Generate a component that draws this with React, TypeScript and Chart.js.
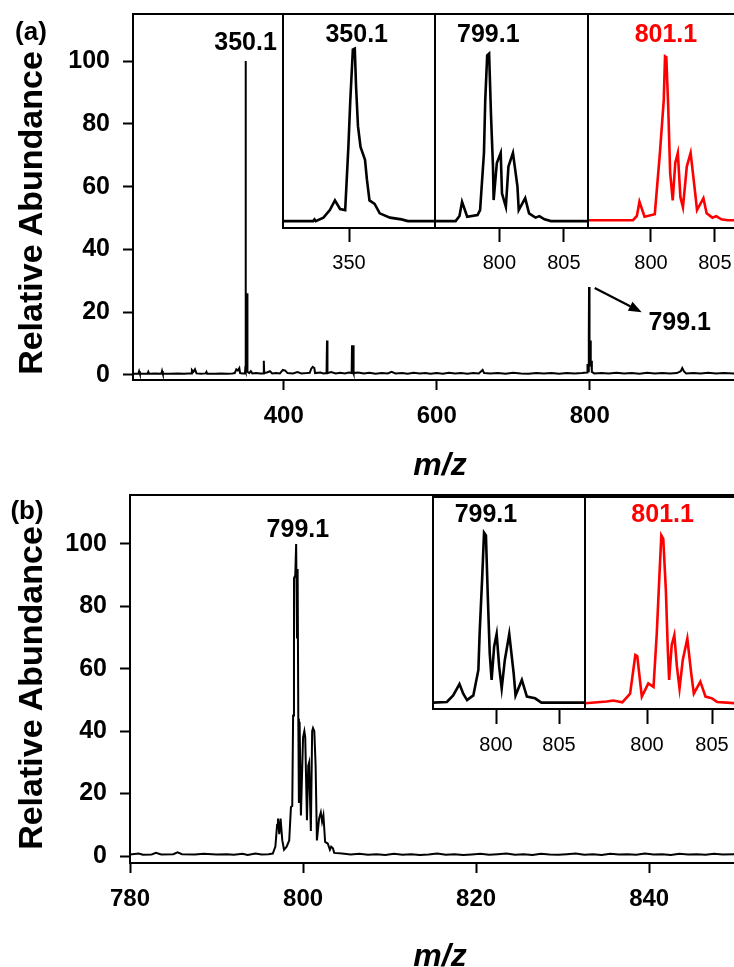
import React, { useEffect, useRef } from 'react';
import { Chart, registerables } from 'chart.js';

Chart.register(...registerables);

const FONT = '"Liberation Sans", Arial, Helvetica, sans-serif';

type Pt = [number, number];

// ---------- DATA ----------
// Panel (a): full-scan spectrum, [m/z, relative abundance]
const spectrumA: Pt[] = [
  [203, 0.4], [210, 0.4], [211, 1.2], [212, 0.4], [222, 0.4], [223, 1.0], [224, 0.4], [232, 0.5],
  [240, 0.4], [241, 1.3], [242, 0.4], [250, 0.4], [262, 0.5], [270, 0.4], [275, 0.5], [279, 0.5],
  [280, 1.6], [282, 1.0], [284, 1.8], [286, 0.5], [292, 0.4], [298, 0.5], [299, 1.0], [300, 0.4],
  [310, 0.4], [318, 0.5], [326, 0.4], [333, 0.5], [336, 0.6], [338, 1.8], [340, 1.4], [342, 2.2],
  [343, 0.6], [346, 0.5], [349.3, 0.5], [349.6, 1.5], [350.1, 100], [350.6, 1.0], [351.6, 1.2],
  [352.1, 26], [352.6, 1.0], [355, 0.6], [357, 1.2], [359, 0.5], [364, 0.6], [369, 0.5],
  [373.5, 0.5], [374, 4.5], [374.5, 0.6], [378, 0.8], [382, 1.2], [385, 0.5], [390, 0.6],
  [395, 0.5], [399, 1.6], [402, 1.4], [405, 0.6], [412, 0.5], [418, 0.9], [423, 0.5], [430, 0.6],
  [434, 0.7], [436, 2.0], [438, 2.6], [440, 2.2], [441, 0.6], [448, 0.8], [452, 0.5], [456, 0.6],
  [456.6, 11], [457.2, 0.6], [462, 0.9], [468, 0.5], [474, 0.7], [480, 0.5], [485, 0.8],
  [488.8, 0.6], [489.3, 9.5], [489.8, 1.2], [490.6, 1.2], [491.1, 9.5], [491.6, 0.6], [497, 0.8],
  [505, 0.5], [512, 0.7], [520, 0.4], [528, 0.6], [536, 0.5], [541, 1.0], [546, 0.5], [555, 0.6],
  [562, 0.4], [570, 0.7], [578, 0.5], [585, 0.6], [592, 0.4], [600, 0.6], [608, 0.4], [616, 0.7],
  [624, 0.5], [632, 0.6], [640, 0.4], [648, 0.6], [655, 0.5], [660, 1.6], [662, 0.6], [670, 0.5],
  [680, 0.6], [690, 0.4], [700, 0.7], [710, 0.5], [720, 0.4], [730, 0.6], [740, 0.5], [750, 0.6],
  [760, 0.4], [770, 0.6], [780, 0.5], [790, 0.6], [796.5, 0.8], [797.1, 3.5], [797.8, 1.2],
  [798.8, 12], [799.1, 28], [799.4, 12], [800.1, 11], [800.6, 3], [801.1, 11], [801.6, 3],
  [802.1, 4.5], [802.8, 1], [806, 0.5], [815, 0.6], [825, 0.5], [835, 0.7], [845, 0.5], [855, 0.6],
  [865, 0.4], [875, 0.7], [885, 0.5], [895, 0.6], [905, 0.5], [914, 0.6], [919, 1.2], [921, 2.2],
  [923, 1.2], [926, 0.5], [935, 0.6], [945, 0.5], [955, 0.7], [965, 0.5], [975, 0.6], [988.6, 0.5],
];

// Panel (a) insets
const insetA350: Pt[] = [
  [344.84, 0], [347.2, 0], [347.3, 1], [347.4, 0], [348, 2], [348.5, 6.4], [348.9, 12], [349.3, 7],
  [349.7, 6.4], [349.95, 43], [350.1, 70], [350.3, 99.4], [350.45, 100], [350.55, 78], [350.7, 55],
  [350.9, 43], [351.25, 35.5], [351.4, 24], [351.6, 12], [352, 10], [352.4, 4.5], [353.2, 2],
  [354.1, 1], [354.6, 0], [356.72, 0],
];
const insetA799: Pt[] = [
  [795, 0], [796.6, 0], [796.9, 3], [797.1, 11.2], [797.5, 2.5], [798.3, 3.5], [798.5, 6.4],
  [798.8, 39.5], [798.9, 70], [799.05, 96], [799.2, 97], [799.35, 60.7], [799.5, 31.6],
  [799.55, 12.2], [799.8, 33.7], [800.1, 39.5], [800.2, 16], [800.5, 8.3], [800.7, 31.6],
  [801.05, 39.5], [801.4, 20], [801.5, 6.4], [802.0, 13.3], [802.3, 4.5], [802.8, 2], [803.1, 2.9],
  [803.5, 1], [804, 0], [806.875, 0],
];
const insetA801: Pt[] = [
  [795.08, 0.5], [798.6, 0.5], [798.9, 3], [799.1, 11.2], [799.5, 2.5], [800.3, 4], [800.7, 39.5],
  [801.0, 70], [801.1, 95.5], [801.2, 95], [801.35, 66], [801.5, 28], [801.7, 12], [801.9, 33.7],
  [802.1, 39.5], [802.3, 14], [802.5, 8], [802.8, 31.6], [803.1, 39.5], [803.4, 20], [803.6, 6.4],
  [804.1, 13.3], [804.35, 4.5], [804.8, 2], [805.1, 2.9], [805.5, 1], [806, 0.5], [806.49, 0.5],
];

// Panel (b): zoomed spectrum
const spectrumB: Pt[] = [
  [780, 0.5], [781, 0.8], [781.5, 0.4], [782.5, 0.5], [783, 1.0], [783.6, 0.5], [785, 0.6],
  [785.5, 1.2], [786, 0.6], [787.5, 0.5], [788.5, 0.7], [790, 0.5], [791.2, 0.6], [792, 0.4],
  [793, 0.7], [793.6, 0.3], [794.5, 0.8], [795.2, 0.5], [796, 0.6], [796.5, 0.8], [796.8, 3],
  [797.0, 10], [797.1, 12], [797.25, 7], [797.4, 12], [797.6, 5], [797.8, 2], [798.1, 3], [798.4, 5],
  [798.6, 15.7], [798.75, 16], [798.85, 45], [798.95, 89], [799.1, 90], [799.2, 100], [799.3, 70],
  [799.37, 92], [799.45, 44], [799.52, 17], [799.6, 43], [799.75, 13], [800.0, 38], [800.15, 40],
  [800.25, 38], [800.45, 11.5], [800.6, 29], [800.7, 30], [800.9, 8], [801.05, 40], [801.15, 41],
  [801.3, 40], [801.45, 29], [801.6, 5], [801.85, 12], [802.05, 14], [802.2, 11], [802.35, 13],
  [802.55, 4.5], [802.85, 4], [803.1, 2], [803.25, 3], [803.45, 2.5], [803.6, 1], [804.5, 0.8],
  [805.5, 0.5], [806.5, 0.7], [807.5, 0.4], [808.5, 0.6], [809.5, 0.3], [810.5, 0.7], [811.5, 0.4],
  [812.5, 0.6], [813.5, 0.3], [814.5, 0.5], [815.5, 0.8], [816.5, 0.4], [817.5, 0.6], [818.5, 0.3],
  [819.5, 0.5], [820.5, 0.7], [821.5, 0.4], [822.5, 0.6], [823.5, 0.8], [824.5, 0.4], [825.5, 0.6],
  [826.5, 0.3], [827.5, 0.7], [828.5, 0.5], [829.5, 0.4], [830.5, 0.6], [831.5, 0.8], [832.5, 0.4],
  [833.5, 0.6], [834.5, 0.3], [835.5, 0.7], [836.5, 0.5], [837.5, 0.6], [838.5, 0.4], [839.5, 0.8],
  [840.5, 0.5], [841.5, 0.6], [842.5, 0.3], [843.5, 0.7], [844.5, 0.5], [845.5, 0.6], [846.5, 0.4],
  [847.5, 0.7], [848.5, 0.5], [849.8, 0.6],
];

// Panel (b) insets
const insetB799: Pt[] = [
  [795, 0.8], [796.1, 1.2], [796.6, 5], [797.1, 11.6], [797.4, 6], [797.7, 2.3], [798.2, 5],
  [798.6, 19.8], [798.7, 41], [798.9, 73], [799.05, 99.6], [799.2, 98], [799.35, 62], [799.5, 29.5],
  [799.65, 14], [799.85, 33.3], [800.05, 40.7], [800.25, 21.7], [800.45, 9], [800.7, 25.6],
  [801.05, 40.7], [801.4, 17.8], [801.55, 5], [802.05, 14], [802.45, 4.3], [803.1, 3.3],
  [803.6, 0.8], [807.06, 0.8],
];
const insetB801: Pt[] = [
  [795.23, 0.4], [796.9, 1.5], [797.4, 2], [798.1, 1], [798.7, 6], [799.1, 28.5], [799.25, 27.7],
  [799.6, 4.3], [800.1, 12], [800.5, 10], [800.75, 41], [800.95, 74], [801.1, 98], [801.25, 96],
  [801.45, 66], [801.6, 31.4], [801.7, 14], [801.9, 34.3], [802.1, 40], [802.3, 21.7], [802.5, 9],
  [802.75, 25.6], [803.1, 38], [803.4, 17.8], [803.6, 6], [804.1, 13], [804.5, 4.3], [805, 3.3],
  [805.4, 1.2], [806.69, 0.5],
];

// Tick values
const yTicksMain = [0, 20, 40, 60, 80, 100];
const xTicksA = [400, 600, 800];
const xTicksB = [780, 800, 820, 840];
const xTicksInset350 = [350];
const xTicksInset800 = [800, 805];

// Peak labels [m/z, abundance, text]
type Lbl = { x: number; y: number; text: string; color: string; font: string };
const BOLD25 = `bold 25px ${FONT}`;
const labelsA: Lbl[] = [
  { x: 350.1, y: 105.7, text: '350.1', color: '#000', font: BOLD25 },
  { x: 917.6, y: 16.6, text: '799.1', color: '#000', font: BOLD25 },
];
const arrowsA = [{ x1: 806.5, y1: 27.7, x2: 868, y2: 20 }];
const labelsB: Lbl[] = [{ x: 799.4, y: 104.5, text: '799.1', color: '#000', font: BOLD25 }];

// ---------- PLUGINS ----------
type Sides = { top?: boolean; left?: boolean; right?: boolean; bottom?: boolean; fill?: string };
function framePlugin(s: Sides) {
  return {
    id: 'frame',
    beforeDraw(chart: any) {
      const { ctx, chartArea: a } = chart;
      if (s.fill) {
        ctx.save();
        ctx.fillStyle = s.fill;
        ctx.fillRect(a.left, a.top, a.right - a.left, a.bottom - a.top);
        ctx.restore();
      }
    },
    afterDraw(chart: any) {
      const { ctx, chartArea: a } = chart;
      ctx.save();
      ctx.strokeStyle = '#000';
      ctx.lineWidth = 2;
      ctx.beginPath();
      if (s.top) { ctx.moveTo(a.left - 1, a.top); ctx.lineTo(a.right, a.top); }
      if (s.left) { ctx.moveTo(a.left, a.top); ctx.lineTo(a.left, a.bottom); }
      if (s.right) { ctx.moveTo(a.right, a.top); ctx.lineTo(a.right, a.bottom); }
      if (s.bottom) { ctx.moveTo(a.left, a.bottom); ctx.lineTo(a.right, a.bottom); }
      ctx.stroke();
      ctx.restore();
    },
  };
}

function labelPlugin(labels: Lbl[], arrows: { x1: number; y1: number; x2: number; y2: number }[] = []) {
  return {
    id: 'peakLabels',
    afterDatasetsDraw(chart: any) {
      const { ctx } = chart;
      const xs = chart.scales.x;
      const ys = chart.scales.y;
      ctx.save();
      ctx.textAlign = 'center';
      ctx.textBaseline = 'middle';
      for (const l of labels) {
        ctx.font = l.font;
        ctx.fillStyle = l.color;
        ctx.fillText(l.text, xs.getPixelForValue(l.x), ys.getPixelForValue(l.y));
      }
      for (const ar of arrows) {
        const x1 = xs.getPixelForValue(ar.x1), y1 = ys.getPixelForValue(ar.y1);
        const x2 = xs.getPixelForValue(ar.x2), y2 = ys.getPixelForValue(ar.y2);
        const ang = Math.atan2(y2 - y1, x2 - x1);
        const hl = 13, hw = 5;
        const bx = x2 - hl * Math.cos(ang), by = y2 - hl * Math.sin(ang);
        ctx.strokeStyle = '#000';
        ctx.fillStyle = '#000';
        ctx.lineWidth = 2.2;
        ctx.beginPath();
        ctx.moveTo(x1, y1);
        ctx.lineTo(bx, by);
        ctx.stroke();
        ctx.beginPath();
        ctx.moveTo(x2, y2);
        ctx.lineTo(bx + hw * Math.sin(ang), by - hw * Math.cos(ang));
        ctx.lineTo(bx - hw * Math.sin(ang), by + hw * Math.cos(ang));
        ctx.closePath();
        ctx.fill();
      }
      ctx.restore();
    },
  };
}

// ---------- CONFIG BUILDERS ----------
type MainOpts = {
  data: Pt[]; xMin: number; xMax: number; xTicks: number[]; yMin: number; yMax: number;
  yWidth: number; xHeight: number; padTop: number; labels: Lbl[]; arrows?: any[];
};
function mainConfig(o: MainOpts): any {
  return {
    type: 'line',
    data: {
      datasets: [{
        data: o.data.map(([x, y]) => ({ x, y })),
        borderColor: '#000', borderWidth: 2, pointRadius: 0, tension: 0, fill: false,
      }],
    },
    options: {
      responsive: false, animation: false, events: [],
      layout: { padding: { top: o.padTop, left: 0, right: 0, bottom: 0 } },
      plugins: { legend: { display: false }, tooltip: { enabled: false } },
      scales: {
        x: {
          type: 'linear', position: 'bottom', min: o.xMin, max: o.xMax,
          afterBuildTicks: (s: any) => { s.ticks = o.xTicks.map((v) => ({ value: v })); },
          afterFit: (s: any) => { s.height = o.xHeight; s.paddingLeft = 0; s.paddingRight = 0; },
          grid: { display: true, drawOnChartArea: false, drawTicks: true, tickLength: 10, tickWidth: 2, tickColor: '#000' },
          border: { display: true, color: '#000', width: 2 },
          ticks: { color: '#000', font: { family: FONT, size: 24, weight: 'bold' }, padding: 12, maxRotation: 0, autoSkip: false },
        },
        y: {
          type: 'linear', position: 'left', min: o.yMin, max: o.yMax,
          afterBuildTicks: (s: any) => { s.ticks = yTicksMain.map((v) => ({ value: v })); },
          afterFit: (s: any) => { s.width = o.yWidth; s.paddingTop = 0; s.paddingBottom = 0; },
          grid: { display: true, drawOnChartArea: false, drawTicks: true, tickLength: 10, tickWidth: 2, tickColor: '#000' },
          border: { display: true, color: '#000', width: 2 },
          ticks: { color: '#000', font: { family: FONT, size: 25, weight: 'bold' }, padding: 13, autoSkip: false },
        },
      },
    },
    plugins: [framePlugin({ top: true }), labelPlugin(o.labels, o.arrows || [])],
  };
}

type InsetOpts = {
  data: Pt[]; color: string; xMin: number; xMax: number; xTicks: number[]; yMin: number; yMax: number;
  xHeight: number; padRight: number; tickLen: number; tickPad: number; title: Lbl; sides: Sides;
};
function insetConfig(o: InsetOpts): any {
  return {
    type: 'line',
    data: {
      datasets: [{
        data: o.data.map(([x, y]) => ({ x, y })),
        borderColor: o.color, borderWidth: 2.6, pointRadius: 0, tension: 0, fill: false,
      }],
    },
    options: {
      responsive: false, animation: false, events: [],
      layout: { padding: { top: 2, left: 2, right: o.padRight, bottom: 0 } },
      plugins: { legend: { display: false }, tooltip: { enabled: false } },
      scales: {
        x: {
          type: 'linear', position: 'bottom', min: o.xMin, max: o.xMax,
          afterBuildTicks: (s: any) => { s.ticks = o.xTicks.map((v) => ({ value: v })); },
          afterFit: (s: any) => { s.height = o.xHeight; s.paddingLeft = 0; s.paddingRight = 0; },
          grid: { display: true, drawOnChartArea: false, drawTicks: true, tickLength: o.tickLen, tickWidth: 2, tickColor: '#000' },
          border: { display: true, color: '#000', width: 2 },
          ticks: { color: '#000', font: { family: FONT, size: 20 }, padding: o.tickPad, maxRotation: 0, autoSkip: false },
        },
        y: { type: 'linear', display: false, min: o.yMin, max: o.yMax },
      },
    },
    plugins: [framePlugin({ ...o.sides, fill: '#fff' }), labelPlugin([o.title])],
  };
}

// ---------- COMPONENTS ----------
function ChartBox({ left, top, width, height, config }: { left: number; top: number; width: number; height: number; config: () => any }) {
  const ref = useRef<HTMLCanvasElement | null>(null);
  useEffect(() => {
    const chart = new Chart(ref.current as HTMLCanvasElement, config());
    return () => chart.destroy();
  }, []);
  return (
    <div style={{ position: 'absolute', left, top, width, height }}>
      <canvas ref={ref} width={width} height={height} style={{ width, height, display: 'block' }} />
    </div>
  );
}

function Text({ x, y, children, size, italic, rotate, color = '#000' }: any) {
  return (
    <div
      style={{
        position: 'absolute', left: x, top: y,
        transform: `translate(-50%, -50%)${rotate ? ' rotate(-90deg)' : ''}`,
        fontFamily: FONT, fontWeight: 'bold', fontStyle: italic ? 'italic' : 'normal',
        fontSize: size, lineHeight: 1, whiteSpace: 'nowrap', color,
      }}
    >
      {children}
    </div>
  );
}

export default function App() {
  return (
    <div style={{ position: 'absolute', left: 0, top: 0, width: 734, height: 967, overflow: 'hidden', background: '#fff' }}>
      {/* Panel (a) */}
      <ChartBox left={0} top={0} width={734} height={480} config={() => mainConfig({
        data: spectrumA, xMin: 203, xMax: 988.6, xTicks: xTicksA, yMin: -1.6, yMax: 115,
        yWidth: 133, xHeight: 100, padTop: 14, labels: labelsA, arrows: arrowsA,
      })} />
      <ChartBox left={281} top={12} width={156} height={280} config={() => insetConfig({
        data: insetA350, color: '#000', xMin: 344.84, xMax: 356.72, xTicks: xTicksInset350, yMin: -4, yMax: 120,
        xHeight: 64, padRight: 2, tickLen: 14, tickPad: 9,
        title: { x: 350.6, y: 108, text: '350.1', color: '#000', font: BOLD25 },
        sides: { top: true, left: true, right: true },
      })} />
      <ChartBox left={433} top={12} width={157} height={280} config={() => insetConfig({
        data: insetA799, color: '#000', xMin: 795, xMax: 806.875, xTicks: xTicksInset800, yMin: -4, yMax: 120,
        xHeight: 64, padRight: 2, tickLen: 14, tickPad: 9,
        title: { x: 799.14, y: 108, text: '799.1', color: '#000', font: BOLD25 },
        sides: { top: true, left: true, right: true },
      })} />
      <ChartBox left={586} top={12} width={148} height={280} config={() => insetConfig({
        data: insetA801, color: '#ff0000', xMin: 795.08, xMax: 806.49, xTicks: xTicksInset800, yMin: -4, yMax: 120,
        xHeight: 64, padRight: 0, tickLen: 14, tickPad: 9,
        title: { x: 801.17, y: 108, text: '801.1', color: '#ff0000', font: BOLD25 },
        sides: { top: true, left: true },
      })} />

      {/* Panel (b) */}
      <ChartBox left={0} top={480} width={734} height={487} config={() => mainConfig({
        data: spectrumB, xMin: 780, xMax: 849.8, xTicks: xTicksB, yMin: -2.24, yMax: 115.7,
        yWidth: 130, xHeight: 104, padTop: 15, labels: labelsB,
      })} />
      <ChartBox left={431} top={495} width={156} height={274} config={() => insetConfig({
        data: insetB799, color: '#000', xMin: 795, xMax: 807.06, xTicks: xTicksInset800, yMin: -2.9, yMax: 120.3,
        xHeight: 60, padRight: 2, tickLen: 15, tickPad: 9,
        title: { x: 799.2, y: 110, text: '799.1', color: '#000', font: BOLD25 },
        sides: { top: true, left: true, right: true },
      })} />
      <ChartBox left={583} top={495} width={151} height={274} config={() => insetConfig({
        data: insetB801, color: '#ff0000', xMin: 795.23, xMax: 806.69, xTicks: xTicksInset800, yMin: -2.9, yMax: 120.3,
        xHeight: 60, padRight: 0, tickLen: 15, tickPad: 9,
        title: { x: 801.2, y: 110, text: '801.1', color: '#ff0000', font: BOLD25 },
        sides: { top: true, left: true },
      })} />

      {/* Text */}
      <Text x={31} y={31} size={26}>(a)</Text>
      <Text x={27} y={510} size={26}>(b)</Text>
      <Text x={30} y={213} size={34} rotate>Relative Abundance</Text>
      <Text x={30} y={688} size={34} rotate>Relative Abundance</Text>
      <Text x={440} y={464} size={32} italic>m/z</Text>
      <Text x={440} y={955} size={32} italic>m/z</Text>
    </div>
  );
}
